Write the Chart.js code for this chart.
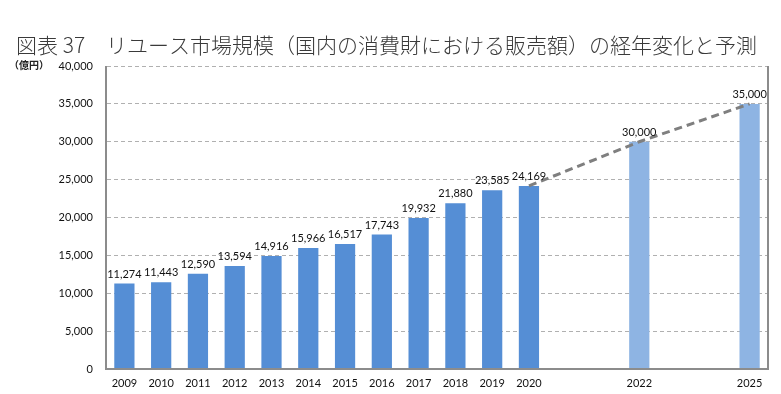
<!DOCTYPE html>
<html><head><meta charset="utf-8">
<script src="https://cdn.jsdelivr.net/npm/chart.js@4/dist/chart.umd.min.js"></script>
<style>html,body{margin:0;padding:0;background:#fff}#wrap{width:781px;height:394px}</style>
</head><body><div id="wrap"><canvas id="c" width="781" height="394"></canvas></div>
<script>
const titleText = "図表 37　リユース市場規模（国内の消費財における販売額）の経年変化と予測";
const unitText = "（億円）";
const categories = ["2009","2010","2011","2012","2013","2014","2015","2016","2017","2018","2019","2020","","","2022","","","2025"];
const salesValues = [11274,11443,12590,13594,14916,15966,16517,17743,19932,21880,23585,24169,null,null,30000,null,null,35000];
const isForecast = [false,false,false,false,false,false,false,false,false,false,false,false,false,false,true,false,false,true];
const trendValues = [null,null,null,null,null,null,null,null,null,null,null,24169,null,null,30000,null,null,35000];
const yTicks = [0,5000,10000,15000,20000,25000,30000,35000,40000];

const LABEL_FONT = "Lato, 'Open Sans', sans-serif";

const decor = {
  id: 'decor',
  beforeDraw(chart) {
    const ctx = chart.ctx;
    ctx.save();
    ctx.fillStyle = '#fff';
    ctx.fillRect(0,0,chart.width,chart.height);
    ctx.fillStyle = '#3a3a3a';
    ctx.font = "300 21px 'Noto Sans CJK JP'";
    ctx.textBaseline = 'middle';
    ctx.textAlign = 'left';
    ctx.fillText(titleText, 16, 45);
    ctx.font = "bold 10px 'Noto Sans CJK JP'";
    ctx.fillStyle = '#222';
    ctx.fillText(unitText, 9, 65);
    ctx.restore();
  },
  afterDatasetsDraw(chart) {
    const ctx = chart.ctx;
    const a = chart.chartArea;
    ctx.save();
    ctx.strokeStyle = '#8c8c8c';
    ctx.lineWidth = 2;
    ctx.beginPath();
    ctx.moveTo(a.left, a.top);
    ctx.lineTo(a.left, a.bottom);
    ctx.lineTo(a.right, a.bottom);
    ctx.lineTo(a.right, a.top);
    ctx.stroke();
    // value labels
    const meta = chart.getDatasetMeta(0);
    ctx.fillStyle = '#111';
    ctx.font = "11px " + LABEL_FONT;
    ctx.textAlign = 'center';
    ctx.textBaseline = 'bottom';
    meta.data.forEach((bar, i) => {
      const v = salesValues[i];
      if (v == null) return;
      ctx.fillText(v.toLocaleString('en-US'), bar.x, bar.y - 4);
    });
    ctx.restore();
  }
};

new Chart(document.getElementById('c'), {
  data: {
    labels: categories,
    datasets: [
      {
        type: 'bar',
        data: salesValues,
        backgroundColor: isForecast.map(f => f ? '#8EB4E3' : '#558ED5'),
        barPercentage: 0.55,
        categoryPercentage: 1.0,
        order: 2
      },
      {
        type: 'line',
        data: trendValues,
        spanGaps: true,
        borderColor: '#7f7f7f',
        borderWidth: 3,
        borderDash: [8,5],
        pointRadius: 0,
        fill: false,
        order: 1
      }
    ]
  },
  options: {
    responsive: false,
    animation: false,
    devicePixelRatio: 1,
    layout: { padding: { left: 0, right: 13, top: 66, bottom: 0 } },
    plugins: { legend: { display: false }, tooltip: { enabled: false }, title: { display: false } },
    scales: {
      x: {
        grid: { display: false, drawTicks: false },
        border: { display: false },
        ticks: { color: '#111', font: { family: LABEL_FONT, size: 11 }, padding: 8, autoSkip: false, maxRotation: 0 },
        afterFit(s) { s.height = 25; }
      },
      y: {
        min: 0, max: 40000,
        afterBuildTicks(s) { s.ticks = yTicks.map(v => ({ value: v })); },
        grid: { color: '#b0b0b0', lineWidth: 1, drawTicks: false },
        border: { display: true, color: '#8c8c8c', dash: [4,3] },
        ticks: { color: '#111', font: { family: LABEL_FONT, size: 11 }, padding: 13,
          callback: v => Number(v).toLocaleString('en-US') },
        afterFit(s) { s.width = 106; }
      }
    }
  },
  plugins: [decor]
});
</script>
</body></html>
